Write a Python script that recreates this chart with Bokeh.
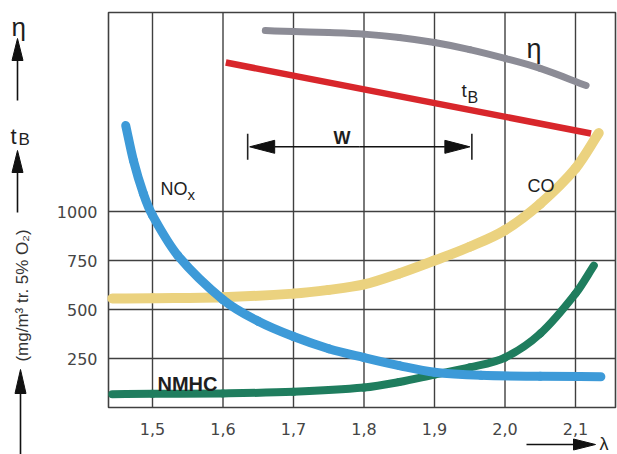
from bokeh.plotting import figure
from bokeh.models import Label
from bokeh.embed import file_html
from bokeh.resources import INLINE
import math

# ---------------- data ----------------
x_ticks = [1.5, 1.6, 1.7, 1.8, 1.9, 2.0, 2.1]
x_tick_labels = ["1,5", "1,6", "1,7", "1,8", "1,9", "2,0", "2,1"]
y_ticks = [250, 500, 750, 1000]
y_tick_labels = ["250", "500", "750", "1000"]

lam_nox = [1.462, 1.473, 1.487, 1.5, 1.536, 1.6, 1.65, 1.7, 1.75, 1.8, 1.85, 1.9, 1.966, 2.05, 2.136]
nox = [1439, 1260, 1092, 980, 775, 550, 440, 362, 300, 255, 214, 180, 164, 159, 157]

lam_co = [1.443, 1.5, 1.6, 1.7, 1.75, 1.8, 1.85, 1.9, 1.95, 2.0, 2.05, 2.1, 2.133]
co = [556, 558, 563, 581, 600, 628, 684, 750, 820, 905, 1040, 1220, 1400]

lam_nmhc = [1.443, 1.5, 1.6, 1.7, 1.8, 1.85, 1.9, 1.95, 2.0, 2.05, 2.1, 2.126]
nmhc = [68, 70, 72, 80, 102, 130, 168, 205, 255, 377, 581, 724]

lam_eta = [1.66, 1.7, 1.75, 1.8, 1.85, 1.9, 1.95, 2.0, 2.05, 2.115]
eta = [1923, 1918, 1913, 1905, 1888, 1862, 1826, 1781, 1730, 1643]

lam_tb = [1.604, 2.122]
tb = [1760, 1398]

w_span = [1.635, 1.953]
w_level = 1330

# ---------------- layout (canvas = frame; page pixels <-> data) ----------------
WPX, HPX = 617, 454
PX_PER_X = 705.0          # pixels per lambda unit
PX_PER_Y = 196.0 / 1000   # pixels per emission unit
X_AT_PX0 = 1.5 - 152 / PX_PER_X
Y_AT_PY0 = 407 / PX_PER_Y

def gx(px):
    return X_AT_PX0 + px / PX_PER_X

def gy(py):
    return Y_AT_PY0 - py / PX_PER_Y

BOX_L, BOX_R, BOX_B, BOX_T = gx(108), gx(615), 0.0, gy(12)

p = figure(width=WPX, height=HPX,
           x_range=(gx(0), gx(WPX)), y_range=(gy(HPX), gy(0)),
           output_backend="svg", toolbar_location=None,
           min_border_left=0, min_border_right=0, min_border_top=0, min_border_bottom=0)
p.axis.visible = False
p.grid.visible = False
p.outline_line_color = None
p.background_fill_color = "white"
p.border_fill_color = "white"

GRID = "#404040"
TXT = "#1e1e1e"
FONT = "Liberation Sans"

# grid + frame
p.segment(x0=x_ticks, y0=[BOX_B] * len(x_ticks), x1=x_ticks, y1=[BOX_T] * len(x_ticks),
          line_color=GRID, line_width=1.4)
p.segment(x0=[BOX_L] * len(y_ticks), y0=y_ticks, x1=[BOX_R] * len(y_ticks), y1=y_ticks,
          line_color=GRID, line_width=1.4)
p.quad(left=[BOX_L], right=[BOX_R], bottom=[BOX_B], top=[BOX_T],
       fill_color=None, line_color=GRID, line_width=1.6)

# tick labels
p.text(x=x_ticks, y=[gy(428)] * len(x_ticks), text=x_tick_labels,
       text_font={"value": "DejaVu Sans"}, text_font_size={"value": "16px"},
       text_color="#454545", text_align="center", text_baseline="middle")
p.text(x=[gx(97)] * len(y_ticks), y=y_ticks, text=y_tick_labels,
       text_font={"value": "DejaVu Sans"}, text_font_size={"value": "16px"},
       text_color="#454545", text_align="right", text_baseline="middle")

# ---------------- smooth curves (cubic Hermite through the read points) ----------------
def smooth(xs, ys, color, width):
    n = len(xs)
    m = []
    for i in range(n):
        a, b = max(i - 1, 0), min(i + 1, n - 1)
        m.append((ys[b] - ys[a]) / (xs[b] - xs[a]))
    x0, y0, x1, y1, cx0, cy0, cx1, cy1 = ([] for _ in range(8))
    for i in range(n - 1):
        dx = xs[i + 1] - xs[i]
        x0.append(xs[i]); y0.append(ys[i])
        x1.append(xs[i + 1]); y1.append(ys[i + 1])
        cx0.append(xs[i] + dx / 3); cy0.append(ys[i] + m[i] * dx / 3)
        cx1.append(xs[i + 1] - dx / 3); cy1.append(ys[i + 1] - m[i + 1] * dx / 3)
    p.bezier(x0=x0, y0=y0, x1=x1, y1=y1, cx0=cx0, cy0=cy0, cx1=cx1, cy1=cy1,
             line_color=color, line_width=width, line_cap="round")

smooth(lam_co, co, "#ebd27f", 10)
smooth(lam_nmhc, nmhc, "#1f7d5e", 8)
smooth(lam_nox, nox, "#3d9ad8", 9)
p.line(lam_tb, tb, line_width=6.5, line_color="#d8262b")
smooth(lam_eta, eta, "#8c8c96", 7)

# ---------------- arrows ----------------
def arrow_px(x0, y0, x1, y1, head_len=22, head_w=11, lw=1.6):
    L = math.hypot(x1 - x0, y1 - y0)
    ux, uy = (x1 - x0) / L, (y1 - y0) / L
    bx, by = x1 - ux * head_len, y1 - uy * head_len
    nx, ny = -uy, ux
    p.line([gx(x0), gx(bx)], [gy(y0), gy(by)], line_color="#111111", line_width=lw)
    p.patch([gx(x1), gx(bx + nx * head_w / 2), gx(bx - nx * head_w / 2)],
            [gy(y1), gy(by + ny * head_w / 2), gy(by - ny * head_w / 2)],
            fill_color="#111111", line_color="#111111", line_width=1)

# W range marker (positions from the data values)
wl_px = (w_span[0] - X_AT_PX0) * PX_PER_X
wr_px = (w_span[1] - X_AT_PX0) * PX_PER_X
wy_px = (Y_AT_PY0 - w_level) * PX_PER_Y
mid = (wl_px + wr_px) / 2
arrow_px(mid, wy_px, wl_px + 2, wy_px, head_len=25, head_w=13, lw=1.4)
arrow_px(mid, wy_px, wr_px - 2, wy_px, head_len=25, head_w=13, lw=1.4)
p.segment(x0=w_span, y0=[w_level - 13 / PX_PER_Y] * 2, x1=w_span, y1=[w_level + 13 / PX_PER_Y] * 2,
          line_color="#222222", line_width=1.6)

# left-side axis arrows and bottom lambda arrow
arrow_px(17, 100, 17, 38)
arrow_px(17, 212, 17, 150)
arrow_px(20, 456, 20, 369, head_len=24)
arrow_px(526, 444, 595, 444, head_len=22, head_w=11)

# ---------------- texts ----------------
def lab(px, py, text, size, bold=False, font=FONT, color=TXT, **kw):
    p.add_layout(Label(x=gx(px), y=gy(py), text=text, text_font=font,
                       text_font_size=f"{size}px",
                       text_font_style="bold" if bold else "normal",
                       text_color=color, text_baseline="alphabetic",
                       text_align="left", **kw))

lab(160, 188, "NO", 18)
lab(187, 194, "x", 15)
lab(527, 185, "CO", 18)
lab(157, 383, "NMHC", 20, bold=True)
lab(333, 137, "W", 18, bold=True)
lab(526, 48, "\u03b7", 27)
lab(461, 90, "t", 19)
lab(467, 97, "B", 16)

lab(11, 26, "\u03b7", 26)
lab(10, 136, "t", 22)
lab(18, 139, "B", 17)
lab(599, 443, "\u03bb", 18)

p.add_layout(Label(x=gx(22), y=gy(295), text="(mg/m\u00b3 tr. 5% O\u2082)", angle=math.pi / 2,
                   text_font=FONT, text_font_size="17px", text_color="#333333",
                   text_align="center", text_baseline="middle"))

open("out.html", "w").write(file_html(p, INLINE))
